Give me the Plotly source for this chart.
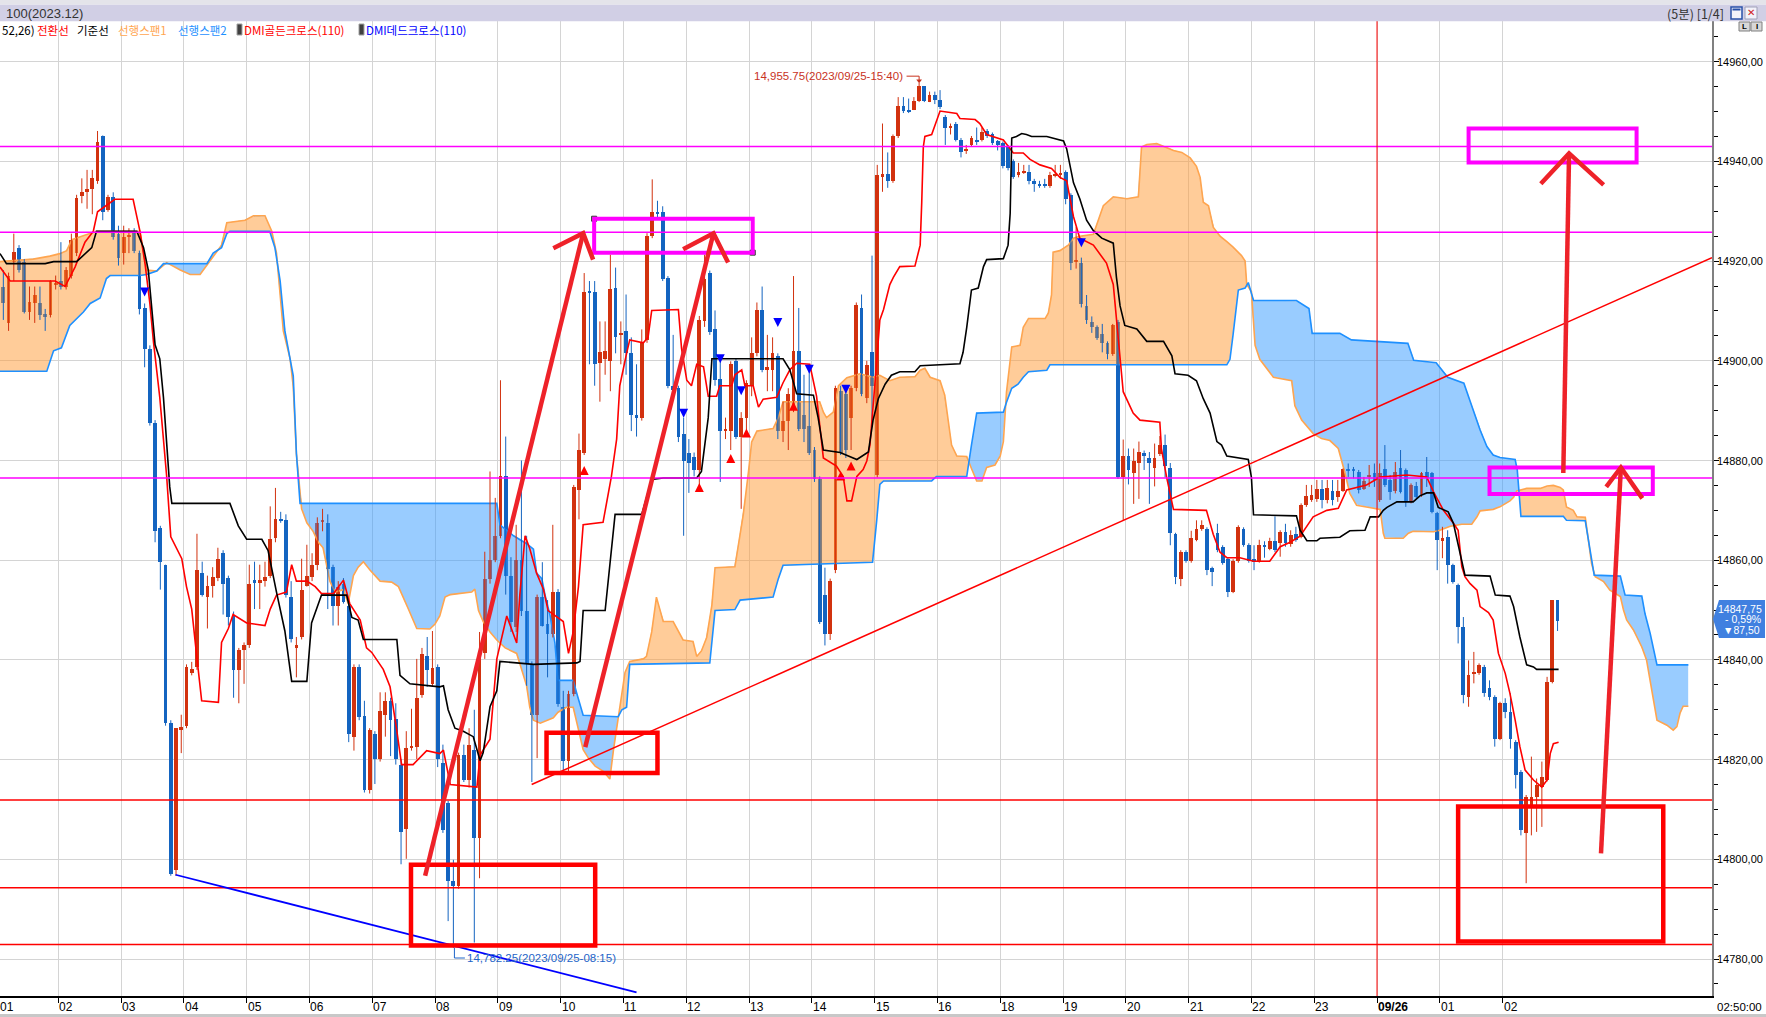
import numpy as np
import plotly.graph_objects as go

# ---------------------------------------------------------------- data
# 5-minute bars, index 0 = 01:00 (2023/09/25); 16:00-16:55 followed by 18:00
BAR = list(range(1, 299))
OPEN = [14914.9,14907.6,14919.9,14922.7,14919.9,14909.8,14911.5,14911.5,14909.3,14909.1,
        14915.2,14916.0,14914.9,14917.1,14921.6,14933.1,14933.8,14934.4,14936.0,14945.0,
        14930.2,14932.9,14925.5,14921.6,14924.9,14926.0,14921.6,14910.6,14902.4,14887.6,
        14866.4,14859.1,14827.4,14797.8,14825.9,14826.8,14837.4,14838.5,14857.5,14852.7,
        14854.9,14856.4,14861.4,14856.4,14849.1,14838.0,14841.9,14843.0,14856.0,14855.6,
        14855.8,14856.9,14864.5,14868.3,14868.1,14852.7,14842.4,14844.6,14854.9,14856.7,
        14859.1,14867.6,14867.5,14858.6,14850.8,14855.2,14850.8,14824.6,14838.5,14828.8,
        14814.0,14825.2,14820.1,14829.0,14831.8,14828.1,14819.0,14806.0,14822.4,14822.6,
        14832.9,14840.8,14835.2,14838.5,14819.3,14811.2,14795.6,14794.6,14820.9,14816.0,
        14822.0,14804.2,14841.3,14856.3,14860.1,14864.9,14876.8,14856.9,14846.7,14860.1,
        14849.9,14839.1,14828.9,14852.6,14847.2,14845.1,14853.7,14830.6,14819.8,14833.2,
        14874.1,14881.6,14914.1,14913.8,14899.5,14900.4,14899.9,14914.6,14905.1,14906.0,
        14901.5,14889.1,14888.6,14904.2,14925.1,14929.9,14929.9,14916.7,14895.0,14894.5,
        14885.4,14881.6,14880.8,14878.0,14907.9,14917.6,14906.3,14896.3,14885.9,14885.9,
        14899.9,14884.8,14888.6,14895.0,14901.5,14910.1,14898.2,14898.2,14900.9,14885.9,
        14888.0,14890.7,14902.0,14889.1,14886.9,14882.1,14876.2,14853.1,14845.1,14858.0,
        14893.9,14893.4,14888.6,14894.5,14910.6,14892.5,14901.7,14877.0,14936.8,14937.5,
        14936.1,14945.0,14951.1,14950.4,14950.4,14952.2,14955.1,14952.0,14953.3,14952.4,
        14949.0,14946.8,14947.6,14944.3,14942.0,14943.3,14944.3,14944.3,14946.1,14945.4,
        14944.0,14943.6,14942.9,14940.0,14937.2,14937.7,14937.9,14936.0,14935.5,14935.4,
        14935.0,14937.2,14937.3,14937.9,14933.2,14919.8,14919.6,14911.0,14907.8,14906.7,
        14905.3,14903.5,14901.4,14907.8,14876.6,14880.9,14877.4,14879.5,14881.5,14880.6,
        14878.4,14881.3,14883.2,14878.4,14865.2,14856.2,14861.6,14859.8,14864.1,14866.3,
        14866.3,14858.4,14865.5,14862.7,14860.2,14853.7,14859.8,14866.3,14863.0,14860.2,
        14859.8,14863.0,14862.3,14863.8,14863.4,14865.7,14863.2,14865.2,14864.7,14871.0,
        14872.1,14872.2,14874.2,14872.1,14873.9,14872.7,14873.9,14878.2,14878.2,14877.7,
        14874.2,14876.7,14877.4,14872.1,14878.2,14876.1,14873.9,14878.4,14878.1,14871.7,
        14874.9,14873.1,14877.7,14877.4,14869.4,14864.0,14864.7,14859.0,14855.0,14846.6,
        14832.6,14837.3,14837.3,14838.6,14834.3,14832.6,14824.2,14831.3,14829.6,14823.6,
        14817.6,14805.2,14810.5,14812.5,14814.5,14815.9,14835.6,14852.0]
HIGH = [14918.2,14917.7,14925.5,14923.2,14920.4,14914.9,14914.9,14914.9,14910.4,14916.2,
        14917.1,14923.8,14918.8,14925.5,14933.3,14936.6,14938.3,14938.3,14946.1,14945.2,
        14933.3,14933.8,14927.1,14927.1,14926.6,14926.6,14922.1,14911.5,14903.1,14888.1,
        14866.9,14859.1,14827.9,14826.3,14829.0,14839.1,14839.6,14865.3,14859.7,14856.9,
        14858.6,14862.5,14862.0,14856.9,14849.7,14842.4,14843.5,14859.1,14859.7,14859.1,
        14859.7,14870.8,14874.5,14869.7,14869.2,14855.8,14844.6,14860.3,14863.1,14861.4,
        14868.6,14870.3,14869.2,14859.1,14855.8,14856.4,14851.3,14839.1,14839.1,14831.8,
        14826.3,14825.7,14833.5,14833.5,14832.4,14831.3,14820.1,14825.7,14830.2,14840.2,
        14842.4,14844.6,14845.8,14839.1,14823.0,14811.7,14799.9,14821.4,14823.0,14826.3,
        14830.0,14845.6,14861.7,14877.8,14872.5,14896.1,14884.8,14860.6,14867.1,14880.0,
        14864.9,14839.7,14853.1,14859.6,14852.0,14867.1,14854.2,14833.8,14833.8,14875.1,
        14885.4,14917.6,14916.0,14916.0,14907.9,14907.9,14921.3,14918.7,14907.9,14913.3,
        14904.7,14899.3,14906.3,14925.6,14936.4,14932.1,14931.0,14917.0,14905.2,14895.0,
        14888.6,14884.3,14881.6,14909.0,14921.3,14918.1,14910.1,14900.4,14888.6,14899.9,
        14900.4,14889.7,14896.1,14904.7,14911.7,14914.9,14905.2,14904.7,14901.5,14891.8,
        14894.5,14917.0,14910.6,14897.2,14898.8,14882.7,14876.8,14858.5,14856.3,14895.0,
        14895.0,14894.5,14895.0,14911.7,14913.3,14900.0,14921.1,14939.3,14947.6,14941.8,
        14945.4,14952.9,14952.9,14952.6,14952.9,14955.75,14955.1,14954.0,14954.0,14954.3,
        14949.3,14947.6,14947.9,14944.7,14943.3,14945.1,14946.8,14946.8,14946.5,14945.8,
        14944.3,14944.0,14943.3,14940.4,14939.7,14939.3,14939.3,14936.5,14936.1,14936.5,
        14937.9,14939.3,14939.3,14938.2,14933.6,14926.8,14920.7,14913.2,14908.9,14907.1,
        14907.4,14903.9,14907.4,14908.2,14884.2,14882.4,14882.4,14883.8,14882.0,14881.7,
        14883.4,14884.9,14885.2,14879.5,14865.5,14862.0,14862.0,14865.9,14868.0,14868.0,
        14866.6,14858.7,14867.3,14863.0,14860.5,14860.2,14867.0,14866.6,14863.4,14863.0,
        14864.1,14863.8,14864.5,14868.8,14866.0,14867.3,14866.0,14866.7,14871.4,14875.1,
        14875.1,14876.1,14876.1,14876.1,14876.1,14876.1,14878.4,14879.4,14878.7,14878.1,
        14876.7,14879.1,14879.4,14879.4,14883.1,14877.1,14879.7,14882.1,14878.4,14875.4,
        14875.7,14877.7,14880.7,14877.7,14869.7,14866.7,14866.0,14859.3,14855.3,14848.6,
        14839.9,14841.6,14839.3,14839.0,14835.9,14832.9,14831.6,14832.3,14833.3,14823.9,
        14817.9,14812.9,14820.6,14816.2,14819.6,14836.6,14852.0,14852.0]
LOW = [14908.2,14906.0,14916.0,14917.7,14909.5,14908.2,14907.6,14908.2,14906.0,14908.7,
       14914.3,14914.3,14914.3,14916.5,14921.0,14931.6,14930.5,14929.4,14935.5,14928.2,
       14929.9,14924.3,14919.1,14919.3,14921.6,14921.6,14909.3,14898.7,14887.0,14863.6,
       14854.1,14826.8,14796.7,14796.7,14821.3,14826.3,14836.9,14838.0,14852.7,14846.3,
       14852.5,14855.8,14849.1,14846.9,14832.4,14831.3,14835.2,14842.4,14850.2,14850.2,
       14854.7,14856.4,14863.6,14867.5,14852.5,14843.5,14836.5,14844.1,14854.7,14855.8,
       14858.0,14865.8,14850.2,14846.9,14846.9,14851.3,14823.5,14821.8,14827.9,14813.4,
       14813.2,14815.1,14819.6,14824.6,14820.7,14819.0,14799.0,14800.1,14821.8,14820.1,
       14832.4,14834.6,14834.6,14818.5,14805.3,14787.6,14782.25,14794.1,14815.5,14814.4,
       14783.3,14796.2,14840.2,14855.3,14859.6,14864.4,14853.1,14845.6,14845.6,14848.8,
       14834.8,14815.5,14820.3,14846.7,14836.5,14844.5,14830.6,14817.7,14817.7,14832.7,
       14868.2,14881.1,14899.3,14895.0,14891.8,14897.2,14893.9,14901.5,14899.3,14897.2,
       14885.9,14884.8,14888.0,14903.6,14924.6,14928.3,14916.0,14894.5,14892.9,14883.7,
       14864.9,14873.5,14876.8,14875.1,14906.8,14905.2,14895.0,14875.7,14884.3,14882.1,
       14884.3,14870.3,14885.4,14892.9,14900.9,14897.7,14893.9,14893.9,14884.3,14883.7,
       14882.1,14889.7,14885.9,14883.7,14881.1,14875.7,14847.2,14842.9,14844.0,14857.4,
       14881.1,14880.5,14882.1,14893.9,14892.9,14891.5,14886.7,14876.6,14933.9,14934.7,
       14935.7,14944.7,14949.7,14949.7,14950.3,14951.9,14951.9,14951.9,14951.5,14950.5,
       14943.3,14945.4,14944.0,14940.8,14941.5,14942.9,14943.3,14944.0,14944.7,14943.3,
       14942.2,14938.6,14938.2,14936.5,14936.8,14937.5,14935.4,14933.9,14934.7,14934.7,
       14934.7,14936.8,14936.5,14931.4,14918.2,14918.5,14910.7,14907.4,14905.6,14904.2,
       14901.7,14900.3,14901.0,14876.3,14868.0,14875.2,14871.3,14872.3,14878.1,14871.3,
       14874.8,14880.9,14876.6,14863.0,14855.2,14854.8,14859.5,14859.5,14863.8,14865.9,
       14857.0,14854.8,14861.6,14859.1,14852.6,14853.4,14859.5,14862.7,14859.5,14858.0,
       14859.5,14860.5,14862.0,14861.6,14860.7,14862.7,14862.7,14863.7,14864.4,14870.7,
       14871.7,14871.7,14870.4,14871.4,14871.0,14871.7,14873.7,14876.7,14876.4,14873.4,
       14874.1,14874.7,14874.7,14871.7,14874.7,14872.1,14873.4,14873.4,14870.7,14871.4,
       14872.4,14872.7,14874.7,14869.4,14858.0,14860.4,14855.3,14855.3,14843.3,14831.3,
       14830.6,14835.3,14837.0,14832.6,14831.9,14822.6,14823.9,14828.3,14822.2,14814.2,
       14804.8,14795.2,14804.8,14805.5,14806.5,14815.6,14835.3,14845.8]
CLOSE = [14911.5,14917.1,14921.9,14918.2,14909.8,14911.7,14913.2,14909.1,14908.9,14916.0,
         14915.6,14914.9,14918.2,14924.3,14932.7,14933.8,14934.4,14936.6,14943.8,14929.9,
         14932.9,14924.9,14920.7,14924.9,14925.3,14922.1,14910.4,14902.4,14887.6,14865.8,
         14859.7,14827.4,14797.0,14826.3,14826.5,14838.5,14838.2,14858.0,14853.0,14854.9,
         14856.7,14860.3,14855.2,14848.6,14838.0,14841.9,14843.0,14855.2,14855.6,14856.0,
         14856.7,14864.2,14868.3,14867.8,14853.0,14844.1,14843.0,14854.1,14856.9,14859.1,
         14867.5,14868.1,14858.2,14850.8,14854.7,14851.6,14825.2,14838.5,14828.5,14814.0,
         14826.0,14820.1,14829.8,14831.8,14827.9,14820.1,14805.4,14822.4,14822.8,14832.4,
         14841.1,14838.0,14838.3,14820.1,14805.8,14795.6,14794.6,14820.9,14816.0,14823.0,
         14804.2,14841.3,14856.3,14860.1,14864.9,14876.8,14856.9,14847.7,14860.1,14849.9,
         14839.1,14828.9,14852.6,14846.9,14845.1,14853.7,14831.1,14819.8,14833.2,14874.6,
         14882.1,14913.8,14913.8,14899.3,14901.7,14902.0,14914.4,14904.7,14905.6,14901.5,
         14889.1,14888.6,14903.6,14925.1,14929.9,14929.6,14916.5,14895.0,14894.2,14884.8,
         14880.0,14879.4,14878.0,14908.1,14916.5,14905.8,14896.1,14885.9,14886.4,14899.3,
         14884.8,14888.6,14895.6,14901.5,14910.1,14898.2,14898.8,14901.5,14885.9,14888.0,
         14893.4,14902.0,14886.4,14886.4,14881.6,14876.2,14847.7,14845.1,14855.8,14894.5,
         14881.6,14882.1,14894.5,14911.1,14893.4,14899.2,14894.9,14937.2,14937.5,14936.1,
         14945.0,14951.1,14950.1,14950.1,14952.2,14955.1,14952.2,14953.4,14952.4,14951.0,
         14946.8,14947.2,14944.3,14941.8,14942.5,14944.7,14944.0,14945.8,14945.1,14943.6,
         14943.3,14939.0,14938.6,14936.8,14937.9,14938.0,14936.0,14935.5,14935.1,14935.0,
         14937.2,14937.5,14937.6,14932.5,14919.6,14920.2,14911.4,14908.2,14906.7,14904.6,
         14903.5,14901.4,14907.1,14876.6,14880.9,14878.1,14879.9,14881.8,14881.0,14879.5,
         14880.6,14883.1,14878.8,14865.5,14856.6,14861.6,14859.8,14864.5,14866.3,14867.0,
         14858.0,14857.7,14862.0,14859.5,14853.7,14859.8,14866.6,14863.0,14859.8,14859.6,
         14863.0,14862.6,14863.8,14862.0,14865.7,14863.4,14865.0,14864.0,14871.0,14872.9,
         14873.1,14874.2,14872.1,14874.4,14872.1,14873.9,14878.2,14878.0,14877.9,14874.1,
         14875.9,14877.1,14876.1,14877.5,14875.1,14873.7,14877.7,14873.7,14871.7,14875.1,
         14872.7,14877.4,14876.4,14869.7,14864.0,14864.4,14859.0,14855.7,14846.6,14832.9,
         14836.9,14837.6,14839.0,14833.3,14832.6,14824.2,14831.3,14829.6,14824.2,14816.9,
         14805.8,14812.5,14812.5,14814.9,14816.5,14835.6,14852.0,14847.75]

# Ichimoku lines as (bar, price) breakpoints
TENKAN = [(0.36,14918.8),(2.3,14916.0),(10.9,14916.0),(12.8,14914.9),(14.7,14918.8),(16.6,14923.8),(18.2,14926.0),
 (19.0,14929.9),(22.3,14932.4),(25.8,14932.4),(27.1,14926.0),(28.1,14919.3),(29.0,14911.5),(29.7,14903.7),
 (30.9,14892.6),(32.2,14877.0),(33.0,14864.7),(35.1,14860.3),(36.0,14854.7),(37.0,14850.2),(37.9,14841.3),
 (38.9,14831.8),(42.1,14831.5),(42.7,14843.5),(44.0,14846.3),(44.9,14849.1),(47.5,14847.4),(51.0,14846.9),
 (52.0,14850.2),(53.2,14853.0),(55.1,14853.6),(56.1,14859.1),(57.0,14855.8),(59.0,14855.8),(60.6,14854.7),
 (61.8,14853.3),(64.1,14853.3),(66.0,14856.0),(67.2,14851.3),(69.2,14848.0),(70.4,14842.4),(71.4,14841.5),
 (73.6,14838.1),(74.9,14834.6),(76.2,14825.7),(77.1,14819.0),(79.3,14819.0),(81.9,14821.8),(84.4,14821.2),
 (85.1,14821.9),(86.4,14815.0),(91.5,14814.5),(92.1,14820.9),(94.0,14824.1),(95.3,14840.2),(97.2,14848.8),
 (99.1,14843.4),(99.7,14853.1),(100.7,14864.9),(101.6,14862.3),(102.9,14857.4),(104.2,14854.2),(105.1,14849.9),
 (108.0,14847.7),(109.0,14841.3),(109.9,14845.6),(110.9,14854.7),(111.8,14867.1),(115.6,14867.6),(117.2,14876.8),
 (118.2,14884.3),(118.8,14895.0),(120.1,14901.5),(120.7,14904.2),(123.3,14903.6),(124.2,14904.7),(124.9,14910.1),
 (130.0,14910.3),(130.6,14902.5),(131.6,14896.1),(132.5,14895.0),(133.5,14899.3),(134.8,14898.8),(135.7,14892.9),
 (137.3,14892.9),(137.9,14895.0),(140.2,14895.0),(140.8,14897.2),(142.1,14898.2),(142.7,14895.0),(144.3,14895.0),
 (145.3,14890.7),(146.2,14892.3),(148.8,14892.7),(150.0,14895.6),(151.3,14898.2),(152.6,14899.5),(155.1,14899.3),
 (156.4,14892.9),(157.7,14880.5),(160.2,14878.9),(161.5,14876.8),(162.2,14871.9),(163.1,14871.9),(164.1,14876.8),
 (165.3,14878.2),(166.0,14879.9),(166.6,14883.1),(167.6,14896.0),(168.5,14908.2),(169.2,14910.3),(170.4,14915.3),
 (171.1,14916.8),(172.3,14918.9),(175.2,14919.0),(176.2,14923.2),(176.5,14931.8),(176.8,14942.9),(177.1,14945.0),
 (178.4,14945.4),(180.0,14950.1),(183.2,14949.6),(183.8,14948.6),(186.7,14948.4),(187.6,14947.6),(188.9,14945.4),
 (192.1,14944.3),(194.0,14941.7),(195.9,14941.7),(197.2,14940.4),(199.1,14939.3),(201.3,14938.6),(202.9,14936.8),
 (204.2,14936.1),(205.5,14928.9),(206.7,14924.6),(209.3,14923.2),(211.8,14919.6),(213.1,14915.3),(213.7,14908.2),
 (215.0,14893.8),(216.9,14889.5),(218.2,14888.1),(222.0,14887.7),(222.3,14882.4),(223.3,14876.6),(224.6,14870.2),
 (230.9,14870.0),(232.2,14865.2),(233.5,14861.6),(234.8,14860.5),(237.3,14860.5),(239.9,14859.8),(243.0,14859.8),
 (245.0,14862.7),(246.9,14863.6),(248.8,14864.8),(251.3,14868.7),(253.9,14870.0),(256.1,14870.4),(256.8,14872.0),
 (257.7,14874.1),(261.5,14875.1),(264.1,14876.7),(269.2,14877.1),(273.0,14876.7),(274.3,14873.7),(276.2,14870.0),
 (278.1,14867.4),(279.0,14866.0),(279.7,14858.7),(280.3,14856.7),(281.3,14855.3),(282.6,14854.0),(283.2,14850.7),
 (284.8,14849.5),(285.7,14848.0),(286.7,14841.3),(288.0,14837.3),(288.9,14833.3),(289.9,14827.9),(290.8,14822.6),
 (291.8,14817.9),(293.4,14815.9),(295.0,14814.5),(296.0,14815.9),(296.6,14821.2),(297.2,14823.2),(298.2,14823.5)]
KIJUN = [(0.36,14921.5),(1.6,14919.5),(9.0,14919.5),(10.6,14919.9),(15.0,14919.9),(16.6,14921.5),(17.9,14922.7),
 (18.8,14926.0),(26.5,14926.0),(27.8,14922.7),(28.7,14918.2),(30.0,14903.2),(30.9,14900.4),(31.6,14892.6),
 (32.2,14883.7),(32.8,14874.7),(33.2,14871.4),(44.3,14871.4),(45.9,14866.9),(47.5,14864.2),(50.4,14864.2),
 (51.6,14861.9),(53.2,14853.6),(54.8,14845.8),(56.1,14835.7),(59.0,14835.7),(59.9,14847.4),(61.8,14853.0),
 (66.6,14853.0),(67.6,14848.5),(68.8,14848.0),(69.8,14844.1),(76.2,14844.1),(76.8,14836.9),(78.7,14835.2),
 (84.4,14834.6),(85.1,14834.8),(86.0,14830.0),(87.3,14826.3),(88.9,14825.7),(90.8,14824.6),(92.1,14819.8),
 (92.7,14821.4),(94.0,14830.6),(95.3,14833.8),(95.9,14839.7),(102.3,14839.1),(110.6,14839.4),(111.2,14839.7),
 (111.8,14849.9),(116.0,14849.9),(116.6,14856.3),(117.2,14862.8),(117.9,14869.2),(123.0,14869.2),(123.9,14872.5),
 (124.9,14876.2),(127.1,14876.5),(133.5,14876.5),(134.4,14877.8),(135.1,14883.2),(135.7,14888.6),(136.4,14900.4),
 (150.0,14900.4),(151.3,14898.2),(152.6,14893.4),(155.8,14893.1),(156.7,14888.6),(157.7,14882.1),(160.9,14881.6),
 (164.1,14880.2),(166.3,14881.7),(167.2,14888.1),(168.2,14892.4),(169.5,14895.3),(170.7,14897.1),(172.3,14897.8),
 (175.2,14897.8),(176.2,14899.0),(183.8,14899.4),(184.4,14901.7),(185.1,14906.7),(186.0,14914.2),(187.3,14914.6),
 (188.3,14918.9),(188.9,14920.3),(192.1,14920.5),(193.0,14923.2),(193.4,14929.6),(193.7,14944.7),(194.6,14945.0),
 (195.6,14945.6),(196.5,14945.4),(197.5,14945.0),(200.4,14945.0),(203.6,14944.1),(204.2,14942.5),(204.8,14939.0),
 (205.5,14935.7),(206.7,14932.5),(208.0,14928.2),(209.3,14926.1),(210.9,14924.6),(213.1,14923.6),(213.7,14916.8),
 (214.4,14911.0),(215.3,14907.1),(217.6,14906.4),(219.5,14903.9),(222.7,14903.9),(224.3,14901.0),(224.9,14897.4),
 (227.4,14897.1),(229.0,14896.0),(230.3,14892.4),(231.6,14889.5),(232.9,14883.8),(233.8,14883.1),(234.8,14880.9),
 (238.9,14880.2),(239.5,14876.6),(239.9,14869.1),(248.1,14868.9),(248.8,14866.0),(250.1,14863.9),(252.0,14863.9),
 (252.6,14864.4),(256.4,14864.6),(258.3,14865.9),(261.2,14866.0),(262.2,14868.7),(263.8,14868.7),(264.7,14870.0),
 (265.4,14870.6),(267.3,14871.7),(270.4,14871.7),(271.1,14872.4),(271.7,14872.9),(273.0,14873.5),(274.3,14873.5),
 (275.2,14870.6),(277.1,14869.7),(278.1,14867.4),(278.7,14864.7),(279.7,14860.0),(280.3,14857.0),(285.1,14856.8),
 (286.1,14853.0),(288.9,14852.8),(289.6,14850.7),(290.8,14844.6),(292.1,14839.0),(293.4,14838.6),(294.0,14838.1),
 (298.2,14838.1)]
SPAN1 = [(0.36,14919.9),(4.2,14920.2),(6.7,14920.4),(9.9,14921.0),(11.8,14921.5),(13.1,14922.1),(14.1,14924.3),
 (15.7,14924.9),(17.6,14925.5),(18.8,14926.0),(27.1,14926.0),(28.4,14918.2),(30.3,14918.0),(31.6,14919.1),
 (32.2,14919.7),(34.8,14918.2),(36.7,14917.3),(38.6,14917.3),(39.9,14919.1),(41.1,14921.0),(42.7,14923.2),
 (43.7,14927.7),(47.2,14928.2),(48.8,14929.1),(51.0,14929.1),(52.3,14926.0),(53.2,14921.6),(54.5,14906.0),
 (55.8,14900.4),(56.4,14894.8),(57.0,14881.4),(58.0,14870.3),(59.0,14867.5),(60.2,14865.8),(61.2,14863.6),
 (62.1,14862.5),(63.4,14855.8),(64.4,14853.6),(66.0,14854.1),(66.9,14851.3),(67.9,14856.9),(68.8,14858.6),
 (69.8,14859.7),(71.1,14858.0),(73.0,14855.8),(75.2,14855.6),(76.5,14854.7),(78.4,14850.2),(80.0,14846.3),
 (82.5,14846.2),(83.5,14847.2),(84.4,14848.8),(85.4,14852.6),(86.4,14853.1),(90.5,14853.6),(91.1,14854.2),
 (91.8,14849.9),(92.7,14847.7),(94.0,14845.6),(95.3,14844.0),(96.9,14842.4),(99.1,14841.3),(101.0,14834.8),
 (101.6,14830.5),(102.3,14827.9),(103.6,14827.3),(106.1,14828.4),(107.0,14829.5),(108.6,14830.5),(109.9,14830.5),
 (110.9,14825.7),(111.8,14822.0),(112.8,14820.3),(114.1,14818.7),(115.6,14817.7),(116.9,14816.1),(117.6,14822.0),
 (118.2,14826.3),(118.8,14830.5),(119.8,14837.5),(120.7,14839.7),(123.3,14840.2),(123.9,14840.7),(124.9,14845.6),
 (125.8,14852.6),(126.5,14849.9),(127.1,14847.7),(129.0,14847.7),(130.0,14845.6),(130.9,14844.0),(132.8,14843.7),
 (133.5,14840.7),(134.4,14841.8),(135.4,14844.5),(136.4,14851.0),(137.0,14858.5),(140.8,14858.7),(141.4,14862.8),
 (142.4,14869.2),(143.4,14877.8),(144.0,14883.7),(145.0,14885.9),(148.1,14886.4),(149.1,14888.6),(150.0,14891.8),
 (157.0,14891.8),(157.7,14889.7),(158.3,14888.6),(159.6,14889.7),(160.6,14895.0),(162.2,14896.6),(164.7,14897.4),
 (167.2,14896.7),(168.5,14897.1),(170.4,14896.0),(172.3,14896.7),(175.2,14896.8),(176.2,14898.1),(177.1,14898.5),
 (178.1,14896.7),(180.0,14896.0),(180.9,14893.1),(181.6,14887.4),(182.2,14883.1),(183.2,14880.9),(185.1,14880.8),
 (186.0,14878.4),(187.0,14875.9),(188.0,14875.9),(188.9,14878.6),(190.5,14879.1),(191.5,14880.9),(192.1,14883.8),
 (192.7,14893.8),(193.7,14902.8),(195.3,14903.1),(195.9,14906.7),(196.9,14908.5),(200.1,14908.5),(200.7,14909.6),
 (201.3,14913.2),(201.6,14921.8),(202.9,14922.1),(204.5,14923.2),(205.5,14924.6),(206.7,14925.0),(209.3,14925.4),
 (210.6,14929.6),(211.2,14931.1),(213.1,14932.9),(215.7,14932.5),(217.9,14932.9),(218.5,14942.9),(219.5,14943.4),
 (221.4,14943.6),(223.0,14942.9),(224.6,14942.2),(226.2,14941.8),(227.8,14940.7),(229.0,14939.0),(229.7,14936.8),
 (230.3,14931.8),(231.3,14931.1),(232.2,14926.8),(233.5,14925.0),(234.8,14923.9),(236.0,14922.8),(237.6,14921.1),
 (238.3,14920.0),(238.6,14915.3),(239.5,14913.9),(240.2,14903.1),(241.1,14900.3),(243.7,14896.7),(247.2,14896.0),
 (247.8,14891.0),(249.1,14888.1),(251.3,14885.4),(252.9,14884.4),(254.5,14884.0),(256.1,14882.4),(257.4,14877.4),
 (258.3,14873.4),(259.6,14871.0),(261.8,14870.6),(264.1,14870.2),(264.7,14865.4),(265.0,14864.4),(268.5,14864.4),
 (269.5,14865.4),(270.4,14865.8),(274.3,14865.7),(275.5,14866.0),(277.5,14866.8),(279.7,14867.2),(281.6,14867.2),
 (282.6,14868.7),(283.2,14869.9),(285.7,14870.2),(287.0,14870.7),(288.9,14871.9),(289.6,14872.6),(290.2,14873.9),
 (292.1,14874.4),(294.7,14874.4),(296.0,14874.9),(297.2,14875.0),(298.5,14874.6),(299.1,14874.1),(299.7,14870.7),
 (301.0,14870.0),(301.7,14868.7),(303.3,14868.6),(303.9,14863.4),(304.5,14859.3),(305.2,14856.7),(306.8,14855.7),
 (308.0,14854.0),(309.0,14853.3),(310.0,14852.7),(310.6,14850.0),(311.2,14848.0),(312.5,14846.0),(314.1,14842.6),
 (315.0,14840.0),(315.7,14835.9),(316.3,14832.6),(317.0,14827.9),(318.9,14826.9),(320.1,14825.9),(320.8,14826.6),
 (321.4,14829.3),(322.0,14830.7),(323.0,14830.7)]
SPAN2 = [(0.36,14897.9),(9.3,14897.9),(10.6,14902.0),(12.1,14902.6),(13.7,14907.1),(14.7,14908.2),(16.3,14909.8),
 (17.6,14911.5),(19.5,14912.6),(20.7,14916.5),(21.4,14917.1),(27.1,14917.1),(28.4,14917.3),(30.3,14918.0),
 (31.6,14919.5),(39.9,14919.5),(41.1,14921.6),(42.7,14922.7),(43.7,14925.5),(44.3,14926.0),(51.9,14926.0),
 (52.9,14922.7),(53.9,14916.0),(54.8,14906.0),(55.8,14900.4),(56.4,14897.0),(57.0,14881.4),(57.7,14871.4),
 (95.3,14871.4),(95.9,14867.1),(98.5,14864.9),(101.0,14863.3),(102.3,14862.2),(102.9,14857.4),(103.9,14856.3),
 (104.5,14853.1),(105.5,14848.8),(106.4,14843.4),(107.0,14835.9),(109.9,14835.9),(110.6,14833.2),(111.8,14828.9),
 (118.5,14828.6),(119.2,14830.0),(120.1,14830.5),(120.7,14839.1),(136.0,14839.4),(136.7,14847.7),(137.0,14849.9),
 (140.8,14850.1),(141.8,14852.0),(148.1,14852.6),(149.1,14856.3),(150.0,14859.0),(167.1,14859.6),(167.9,14868.0),
 (168.5,14875.2),(169.2,14875.9),(178.4,14875.9),(179.3,14876.8),(185.1,14876.8),(186.0,14883.1),(187.0,14889.5),
 (192.1,14889.7),(192.7,14891.7),(193.7,14894.5),(194.9,14895.3),(195.9,14896.7),(196.9,14897.8),(200.4,14898.1),
 (201.0,14899.2),(234.8,14899.2),(235.4,14900.3),(236.0,14905.3),(237.0,14914.2),(238.3,14914.6),(238.9,14915.7),
 (239.9,14912.1),(248.1,14912.1),(250.5,14910.5),(251.1,14905.5),(256.4,14905.5),(258.6,14904.2),(269.4,14903.5),
 (270.5,14900.1),(274.8,14899.6),(277.0,14896.7),(280.1,14895.5),(282.6,14888.1),(283.2,14886.1),(284.5,14882.8),
 (285.7,14881.1),(287.0,14880.6),(289.9,14880.2),(290.3,14878.1),(290.7,14872.0),(291.0,14868.8),(299.1,14868.8),
 (299.7,14868.0),(303.3,14867.9),(304.2,14862.0),(305.0,14857.0),(310.0,14856.8),(310.9,14853.0),(314.1,14852.8),
 (314.7,14849.3),(315.7,14845.3),(316.6,14840.6),(317.0,14839.0),(323.0,14839.0)]

# DMI cross signals (bar, price)
DMI_GOLDEN = [(112,14878.9),(134,14875.5),(140,14881.3),(143,14886.4),(152,14891.8),(161,14877.8),(163,14879.8)]
DMI_DEAD = [(28,14912.9),(131,14888.6),(138,14899.5),(142,14893.1),(149,14906.8),(155,14897.4),(162,14893.4),(207,14922.8)]

# user drawings (bar, price)
MAGENTA_LEVELS = [14943.0, 14925.8, 14876.5]
RED_LEVELS = [14811.9, 14794.3, 14782.9]
RED_TREND = [(101.96,14815.0),(327.5,14920.7)]
BLUE_TREND = [(33.9,14796.9),(122.0,14773.3)]
RED_BOXES = [(78.9,114.1,14782.7,14798.9),(104.8,126.0,14817.3,14825.4),(279.0,318.2,14783.5,14810.6)]
MAGENTA_BOXES = [(113.9,144.2,14921.7,14928.5),(281.0,313.1,14939.8,14946.6),(285.0,316.2,14873.3,14878.6)]
HAND_ARROWS = [
    [(81.6,14796.7),(111.8,14925.6)], [(106.1,14922.6),(111.8,14925.6),(113.7,14920.3)],
    [(112.2,14822.5),(136.7,14925.6)], [(130.9,14922.4),(136.7,14925.6),(139.5,14919.7)],
    [(299.1,14877.5),(300.2,14941.6)], [(294.8,14935.5),(300.2,14941.6),(306.8,14935.3)],
    [(306.3,14801.2),(310.1,14878.6)], [(307.3,14874.7),(310.1,14878.6),(314.2,14872.4)],
]
DATE_BREAK = 263.5
HOUR_TICKS = [-0.5,11.5,23.5,35.5,47.5,59.5,71.5,83.5,95.5,107.5,119.5,131.5,143.5,155.5,167.5,179.5,
              191.5,203.5,215.5,227.5,239.5,251.5,263.5,275.5,287.5]
HOUR_LABELS = ["01","02","03","04","05","06","07","08","09","10","11","12","13","14","15","16",
               "18","19","20","21","22","23","09/26","01","02"]
Y_TICKS = [14780,14800,14820,14840,14860,14880,14900,14920,14940,14960]
HIGH_MARK = (176, 14955.75, "14,955.75(2023/09/25-15:40)")
LOW_MARK = (87, 14782.25, "14,782.25(2023/09/25-08:15)")
LAST = (14847.75, "- 0,59%", "▼87,50")

# ---------------------------------------------------------------- style
W, H = 1766, 1017
PL, PR, PT, PB = 0, 1712, 21, 996
XR = [0.3631, 327.513]
YR = [14772.577, 14968.165]
RED_C, BLUE_C = "#D2320F", "#1464C0"
NUM = "Liberation Sans, Arial, sans-serif"
KR = "Noto Sans CJK KR, sans-serif"

def pxx(x):
    return (x - PL) / (PR - PL)

def pyy(y):
    return (PB - y) / (PB - PT)

def bar_paper(b):
    return (b - XR[0]) / (XR[1] - XR[0])

fig = go.Figure()

# ---- cloud fill
s1x, s1y = map(np.array, zip(*SPAN1))
s2x, s2y = map(np.array, zip(*SPAN2))
g = np.arange(s1x[0], s1x[-1] + 1e-9, 0.05)
a = np.interp(g, s1x, s1y)
b = np.interp(g, s2x, s2y)
up = np.maximum(a, b)
fig.add_trace(go.Scatter(x=np.concatenate([g, g[::-1]]), y=np.concatenate([up, b[::-1]]),
                         fill="toself", fillcolor="rgba(255,153,51,0.5)", line=dict(width=0),
                         mode="lines", hoverinfo="skip"))
fig.add_trace(go.Scatter(x=np.concatenate([g, g[::-1]]), y=np.concatenate([up, a[::-1]]),
                         fill="toself", fillcolor="rgba(51,153,255,0.5)", line=dict(width=0),
                         mode="lines", hoverinfo="skip"))
fig.add_trace(go.Scatter(x=s1x, y=s1y, mode="lines", line=dict(color="#FFA54F", width=1.6)))
fig.add_trace(go.Scatter(x=s2x, y=s2y, mode="lines", line=dict(color="#1E90FF", width=1.6)))

# ---- candles
up_mask = [c >= o for o, c in zip(OPEN, CLOSE)]
for want, col in ((True, RED_C), (False, BLUE_C)):
    wx, wy = [], []
    for i, o, h, l, c, u in zip(BAR, OPEN, HIGH, LOW, CLOSE, up_mask):
        if u == want:
            wx += [i, i, None]
            wy += [l, h, None]
    fig.add_trace(go.Scatter(x=wx, y=wy, mode="lines", line=dict(color=col, width=1)))
base = [min(o, c) for o, c in zip(OPEN, CLOSE)]
hgt = [max(abs(c - o), 0.25) for o, c in zip(OPEN, CLOSE)]
fig.add_trace(go.Bar(x=BAR, y=hgt, base=base, width=0.72,
                     marker=dict(color=[RED_C if u else BLUE_C for u in up_mask], line=dict(width=0))))

# ---- conversion / base lines
tx, ty = zip(*TENKAN)
kx, ky = zip(*KIJUN)
fig.add_trace(go.Scatter(x=tx, y=ty, mode="lines", line=dict(color="#FF0000", width=1.6)))
fig.add_trace(go.Scatter(x=kx, y=ky, mode="lines", line=dict(color="#000000", width=1.6)))

# ---- DMI signals
gx, gy = zip(*DMI_GOLDEN)
dx, dy = zip(*DMI_DEAD)
fig.add_trace(go.Scatter(x=gx, y=gy, mode="markers",
                         marker=dict(symbol="arrow-up", size=9, color="#FF0000")))
fig.add_trace(go.Scatter(x=dx, y=dy, mode="markers",
                         marker=dict(symbol="arrow-down", size=9, color="#0000FF")))

shapes = []
for v in MAGENTA_LEVELS:
    shapes.append(dict(type="line", xref="paper", yref="y", x0=0, x1=1, y0=v, y1=v,
                       line=dict(color="#FF00FF", width=1.6)))
for v in RED_LEVELS:
    shapes.append(dict(type="line", xref="paper", yref="y", x0=0, x1=1, y0=v, y1=v,
                       line=dict(color="#FF0000", width=1.6)))
shapes.append(dict(type="line", xref="x", yref="paper", x0=DATE_BREAK, x1=DATE_BREAK, y0=0, y1=1,
                   line=dict(color="#FF0000", width=1)))
shapes.append(dict(type="line", xref="x", yref="y", x0=RED_TREND[0][0], y0=RED_TREND[0][1],
                   x1=RED_TREND[1][0], y1=RED_TREND[1][1], line=dict(color="#FF0000", width=1.5)))
shapes.append(dict(type="line", xref="x", yref="y", x0=BLUE_TREND[0][0], y0=BLUE_TREND[0][1],
                   x1=BLUE_TREND[1][0], y1=BLUE_TREND[1][1], line=dict(color="#0000FF", width=1.8)))
for x0, x1, y0, y1 in RED_BOXES:
    shapes.append(dict(type="rect", xref="x", yref="y", x0=x0, x1=x1, y0=y0, y1=y1,
                       line=dict(color="#FF0000", width=4.5)))
for x0, x1, y0, y1 in MAGENTA_BOXES:
    shapes.append(dict(type="rect", xref="x", yref="y", x0=x0, x1=x1, y0=y0, y1=y1,
                       line=dict(color="#FF00FF", width=4)))
for pts in HAND_ARROWS:
    path = "M " + " L ".join(f"{x},{y}" for x, y in pts)
    shapes.append(dict(type="path", xref="x", yref="y", path=path,
                       line=dict(color="#EE2229", width=4.5)))
hb, hv, htxt = HIGH_MARK
shapes.append(dict(type="path", xref="x", yref="y",
                   path=f"M {hb-2.4},{hv+1.35} L {hb},{hv+1.35} L {hb},{hv+0.55}",
                   line=dict(color="#C8321E", width=1)))
lb, lv, ltxt = LOW_MARK
shapes.append(dict(type="path", xref="x", yref="y",
                   path=f"M {lb+0.2},{lv} L {lb+0.2},{lv-2.05} L {lb+2.2},{lv-2.05}",
                   line=dict(color="#1E64C8", width=1)))
fig.add_trace(go.Scatter(x=[hb], y=[hv + 0.45], mode="markers",
                         marker=dict(symbol="triangle-down", size=5, color="#C8321E")))
mb = MAGENTA_BOXES[0]
fig.add_trace(go.Scatter(x=[mb[0], mb[1]], y=[mb[3], mb[2]], mode="markers",
                         marker=dict(symbol="square", size=5, color="#808080",
                                     line=dict(color="#303030", width=1))))

# ---- window chrome (pixel positions)
def prect(x0, y0, x1, y1, fill, line=None, lw=0):
    return dict(type="rect", xref="paper", yref="paper", x0=pxx(x0), x1=pxx(x1), y0=pyy(y1), y1=pyy(y0),
                fillcolor=fill, line=dict(color=line or fill, width=lw), layer="above")

shapes.append(prect(0, 0, W, 4.7, "#E4E4EA"))
shapes.append(prect(0, 4.7, W, 21.3, "#D1CFE5"))
shapes.append(prect(1731, 7, 1742, 19, "#F2F2FA", "#2850A8", 1.5))
shapes.append(prect(1732.5, 8.5, 1740.5, 10.5, "#2850A8"))
shapes.append(prect(1745, 7, 1757, 19, "#F2F2FA", "#A0A0B8", 1))
shapes.append(prect(1739, 22, 1750, 31, "#D8D8D8", "#808080", 1))
shapes.append(prect(1751, 22, 1762, 31, "#D8D8D8", "#808080", 1))
shapes.append(prect(0, 1014, W, H, "#C8C8C8"))
shapes.append(prect(237, 24, 242, 35, "#404040", "#A0A0A0", 1))
shapes.append(prect(359, 24, 364, 35, "#404040", "#A0A0A0", 1))
tag = [(1713, 619), (1719, 600), (1765, 600), (1765, 638), (1719, 638)]
shapes.append(dict(type="path", xref="paper", yref="paper",
                   path="M " + " L ".join(f"{pxx(x)},{pyy(y)}" for x, y in tag) + " Z",
                   fillcolor="#4080E0", line=dict(width=0), layer="above"))

anns = []
def ann(text, x, y, size=12, color="#000000", family=NUM, xanchor="left", xref="paper", yref="paper", **kw):
    anns.append(dict(text=text, x=x, y=y, xref=xref, yref=yref, showarrow=False,
                     font=dict(size=size, color=color, family=family),
                     xanchor=xanchor, yanchor="middle", **kw))

ann("100(2023.12)", pxx(4), pyy(13.3), size=13, color="#333333", family="Liberation Sans, sans-serif")
ann("(5분) [1/4]", pxx(1726), pyy(13.3), size=12.5, color="#333333", family=KR, xanchor="right")
ann("✕", pxx(1751), pyy(13), size=10, color="#D02020", family="DejaVu Sans", xanchor="center")
ann("<b>L</b>", pxx(1744.5), pyy(26.5), size=8, color="#000000", xanchor="center")
ann("<b>I</b>", pxx(1756.5), pyy(26.5), size=8, color="#000000", xanchor="center")

legend = [("52,26)", 0, "#000000"), ("전환선", 35, "#FF0000"), ("기준선", 75, "#000000"),
          ("선행스팬1", 116, "#FFA54F"), ("선행스팬2", 176, "#1E90FF"),
          ("DMI골든크로스(110)", 242, "#FF0000"), ("DMI데드크로스(110)", 364, "#0000FF")]
for t, x, c in legend:
    ann(t, pxx(x), pyy(29.5), size=11.5, color=c, family=KR)

ann(htxt, hb - 2.7, hv + 1.35, size=11.5, color="#C8321E", xanchor="right", xref="x", yref="y")
ann(ltxt, lb + 2.3, lv - 2.05, size=11.5, color="#1E64C8", xref="x", yref="y")

for tv, tl in zip(HOUR_TICKS, HOUR_LABELS):
    xp = max(bar_paper(tv), 0.0)
    ann(("<b>%s</b>" % tl) if "/" in tl else tl, xp, pyy(1006.5), size=12,
        xshift=(-1 if xp > 0 else -2))
ann("02:50:00", pxx(1764), pyy(1006.5), size=11.5, xanchor="right")

# y tick labels placed next to the axis (narrow look of the original)
for v in Y_TICKS:
    ann(f"{v},00", pxx(1716), v, size=11, yref="y", xshift=-1)

ann(f"{LAST[0]:.2f}".replace(".", ","), pxx(1764), pyy(608.5), size=10.5, color="white", xanchor="right")
ann(LAST[1], pxx(1763), pyy(619), size=10.5, color="white", xanchor="right")
ann(LAST[2], pxx(1762), pyy(630), size=10.5, color="white", xanchor="right")

fig.update_layout(
    width=W, height=H, margin=dict(l=PL, r=W - PR, t=PT, b=H - PB, pad=0, autoexpand=False),
    paper_bgcolor="white", plot_bgcolor="white", showlegend=False, hovermode=False,
    shapes=shapes, annotations=anns,
    xaxis=dict(range=XR, tickvals=HOUR_TICKS, showticklabels=False, ticks="outside", ticklen=5,
               tickcolor="black", showgrid=True, gridcolor="#D4D4D4", gridwidth=1, zeroline=False,
               showline=True, linecolor="black", linewidth=1.5, automargin=False),
    yaxis=dict(range=YR, side="right", tickvals=Y_TICKS, automargin=False, showticklabels=False,
               ticks="outside", ticklen=5, tickcolor="black",
               showgrid=True, gridcolor="#D4D4D4", gridwidth=1, zeroline=False,
               showline=True, linecolor="#808080", linewidth=2,
               minor=dict(tick0=14780, dtick=5, ticks="outside", ticklen=4, tickcolor="black", showgrid=False)),
    bargap=0,
)
fig.write_html("out.html", config={"displayModeBar": False},
               post_script="document.body.style.margin='0px';document.body.style.overflow='hidden';")
